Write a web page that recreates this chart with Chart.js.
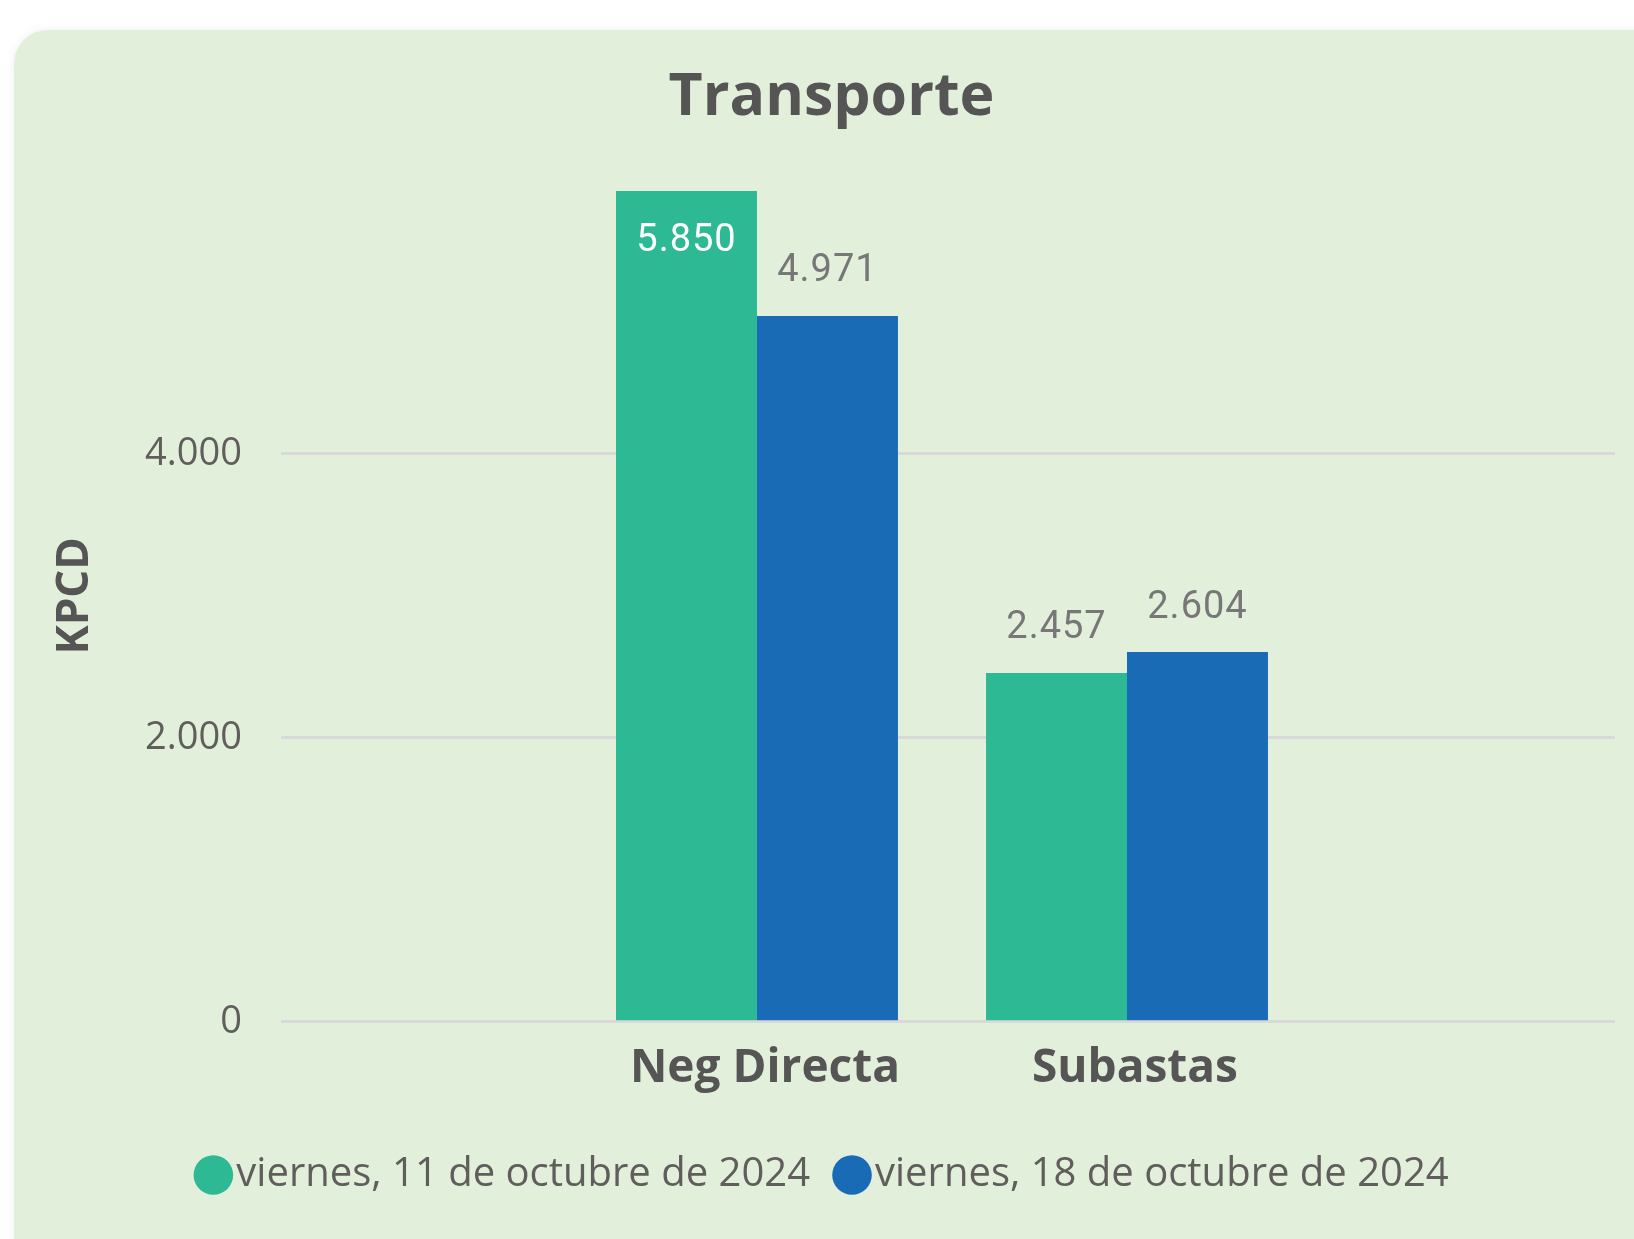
<!DOCTYPE html>
<html><head><meta charset="utf-8">
<script src="https://cdn.jsdelivr.net/npm/chart.js@4.4.1/dist/chart.umd.min.js"></script>
<style>
html,body{margin:0;padding:0;background:#fff;width:1634px;height:1239px;overflow:hidden;}
#card{position:absolute;left:14px;top:30px;width:1660px;height:1280px;border-radius:34px;background:#E2EFDA;box-shadow:0 0 10px rgba(0,0,0,0.07);}
#wrap{position:absolute;left:0;top:0;width:1634px;height:1239px;}
</style></head><body>
<div id="card"></div>
<div id="wrap"><canvas id="c" width="1634" height="1239"></canvas></div>
<script>
const categories = ['Neg Directa', 'Subastas'];
const seriesNames = ['viernes, 11 de octubre de 2024', 'viernes, 18 de octubre de 2024'];
const valuesOct11 = [5850, 2457];
const valuesOct18 = [4971, 2604];
const yTickValues = [0, 2000, 4000];
const colors = ['#2DB994', '#1A6BB5'];

function fmt(v) { return String(v).replace(/\B(?=(\d{3})+(?!\d))/g, '.'); }

const valueLabels = {
  id: 'valueLabels',
  afterDatasetsDraw(chart) {
    const { ctx, chartArea } = chart;
    ctx.save();
    ctx.font = '38px Roboto';
    try { ctx.letterSpacing = '1px'; } catch (e) {}
    ctx.textAlign = 'center';
    ctx.textBaseline = 'middle';
    chart.data.datasets.forEach((ds, di) => {
      const meta = chart.getDatasetMeta(di);
      meta.data.forEach((bar, i) => {
        const v = ds.data[i].y;
        let y = bar.y - 44;
        let color = '#777777';
        if (y - 20 < chartArea.top) { y = bar.y + 50; color = '#ffffff'; }
        ctx.fillStyle = color;
        ctx.fillText(fmt(v), bar.x, y);
      });
    });
    ctx.restore();
  }
};

// shift title and legend blocks horizontally to sit centred on the card
const centreShift = {
  id: 'centreShift',
  afterLayout(chart) {
    if (chart.titleBlock) { chart.titleBlock.left += 48; }
    if (chart.legend) { chart.legend.left += 22; chart.legend.right += 22; }
  }
};

new Chart(document.getElementById('c'), {
  type: 'bar',
  data: {
    datasets: [
      { label: seriesNames[0], data: valuesOct11.map((v, i) => ({ x: i, y: v })), backgroundColor: colors[0], borderWidth: 0, categoryPercentage: 0.762, barPercentage: 1.0 },
      { label: seriesNames[1], data: valuesOct18.map((v, i) => ({ x: i, y: v })), backgroundColor: colors[1], borderWidth: 0, categoryPercentage: 0.762, barPercentage: 1.0 }
    ]
  },
  options: {
    responsive: false,
    animation: false,
    layout: { padding: { left: 0, right: 19, top: 0, bottom: 34 } },
    plugins: {
      title: {
        display: true, text: 'Transporte', color: '#555555',
        font: { family: 'Open Sans', size: 59, weight: 'bold' },
        padding: { top: 63, bottom: 36 }
      },
      legend: {
        position: 'bottom',
        labels: {
          usePointStyle: true, pointStyle: 'circle', boxWidth: 6, boxHeight: 28, padding: 39,
          color: '#605E5C', font: { family: 'Open Sans', size: 40 }
        }
      },
      tooltip: { enabled: false }
    },
    scales: {
      x: {
        type: 'linear', min: -1.2864, max: 2.3189, offset: false,
        grid: { display: false, offset: false },
        border: { display: false },
        afterBuildTicks: (s) => { s.ticks = categories.map((c, i) => ({ value: i })); },
        afterFit: (s) => { s.height += 9; },
        ticks: {
          callback: (v) => categories[v] ?? '',
          color: '#555555', padding: 11, labelOffset: 8, maxRotation: 0, autoSkip: false,
          font: { family: 'Open Sans', size: 46, weight: 'bold' }
        }
      },
      y: {
        min: 0, max: 6000,
        afterBuildTicks: (s) => { s.ticks = yTickValues.map(v => ({ value: v })); },
        afterFit: (s) => { s.width = 281; },
        grid: { color: '#D9D9D9', lineWidth: 3, drawTicks: false },
        border: { display: false },
        ticks: {
          callback: (v) => fmt(v), color: '#605E5C', padding: 39,
          font: { family: 'Open Sans', size: 38 }
        },
        title: {
          display: true, text: 'KPCD', color: '#555555',
          font: { family: 'Open Sans', size: 44, weight: 'bold' },
          padding: { top: 49, bottom: 0 }
        }
      }
    }
  },
  plugins: [valueLabels, centreShift]
});
</script>
</body></html>
